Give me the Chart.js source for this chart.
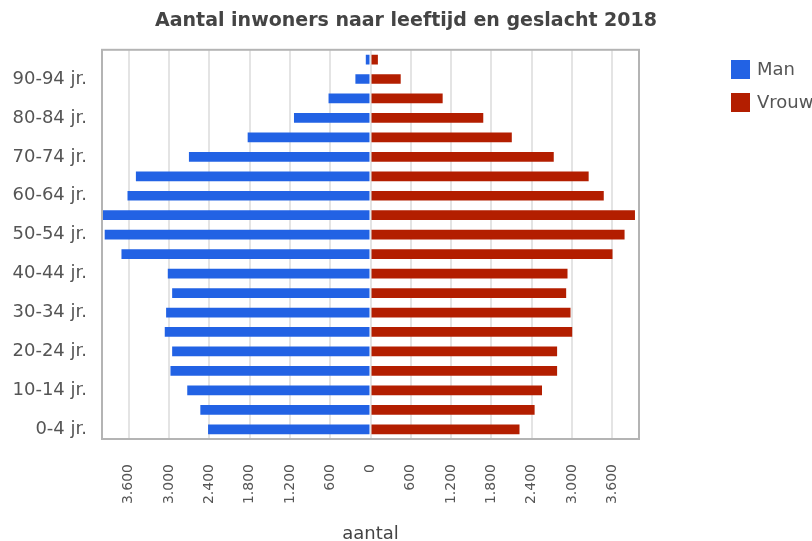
<!DOCTYPE html>
<html>
<head>
<meta charset="utf-8">
<script src="https://cdn.jsdelivr.net/npm/chart.js@4"></script>
<style>
  html, body { margin: 0; padding: 0; background: #fff; overflow: hidden; }
  #wrap { width: 812px; height: 541px; position: relative; }
</style>
</head>
<body>
<div id="wrap"><canvas id="pyramid"></canvas></div>
<script>
// age groups, bottom to top
const ageGroups = ['0-4 jr.', '5-9 jr.', '10-14 jr.', '15-19 jr.', '20-24 jr.', '25-29 jr.',
    '30-34 jr.', '35-39 jr.', '40-44 jr.', '45-49 jr.', '50-54 jr.', '55-59 jr.', '60-64 jr.',
    '65-69 jr.', '70-74 jr.', '75-79 jr.', '80-84 jr.', '85-89 jr.', '90-94 jr.', '95+ jr.'];

const men = [2420, 2535, 2730, 2980, 2955, 3065, 3045, 2955, 3020, 3710,
    3960, 3990, 3620, 3495, 2705, 1830, 1140, 625, 225, 70];

const women = [2220, 2445, 2555, 2780, 2780, 3005, 2980, 2915, 2935, 3605,
    3785, 3940, 3475, 3250, 2730, 2105, 1680, 1075, 450, 110];

const xTicks = [-3600, -3000, -2400, -1800, -1200, -600, 0, 600, 1200, 1800, 2400, 3000, 3600];

const FONT = 'DejaVu Sans';
const TEXT = '#555';

// box round the plot area
const frame = {
    id: 'frame',
    afterDraw(chart) {
        const a = chart.chartArea;
        const ctx = chart.ctx;
        ctx.save();
        ctx.strokeStyle = '#b4b4b4';
        ctx.lineWidth = 2;
        ctx.strokeRect(a.left, a.top, a.right - a.left, a.bottom - a.top);
        ctx.restore();
    }
};

// legend on the right, runs off the edge like the original
const sideLegend = {
    id: 'sideLegend',
    afterDraw(chart) {
        const ctx = chart.ctx;
        ctx.save();
        chart.data.datasets.forEach((ds, i) => {
            const y = 60 + i * 33;
            ctx.fillStyle = ds.backgroundColor;
            ctx.fillRect(731, y, 19, 19);
            ctx.fillStyle = TEXT;
            ctx.font = '18px "' + FONT + '"';
            ctx.textBaseline = 'middle';
            ctx.fillText(ds.label, 757, y + 10);
        });
        ctx.restore();
    }
};

const ctx = document.getElementById('pyramid').getContext('2d');

new Chart(ctx, {
    type: 'bar',
    data: {
        labels: ageGroups,
        datasets: [{
            label: 'Man',
            data: men.map(v => -v),
            backgroundColor: '#2262e4',
            barPercentage: 0.5,
            categoryPercentage: 1
        }, {
            label: 'Vrouw',
            data: women,
            backgroundColor: '#b31e00',
            barPercentage: 0.5,
            categoryPercentage: 1
        }]
    },
    options: {
        indexAxis: 'y',
        responsive: true,
        maintainAspectRatio: false,
        animation: false,
        layout: {
            padding: 0
        },
        scales: {
            x: {
                stacked: true,
                min: -4000,
                max: 4000,
                afterBuildTicks: scale => {
                    scale.ticks = xTicks.map(v => ({ value: v }));
                },
                afterFit: scale => { scale.height = 102; },
                grid: {
                    color: '#e4e4e4',
                    lineWidth: 2,
                    drawTicks: false
                },
                border: { display: false },
                ticks: {
                    minRotation: 90,
                    maxRotation: 90,
                    padding: 25,
                    color: TEXT,
                    font: { family: FONT, size: 14 },
                    callback: v => Math.abs(v).toLocaleString('nl-NL')
                },
                title: {
                    display: true,
                    text: 'aantal',
                    color: '#444',
                    font: { family: FONT, size: 18 },
                    padding: { top: 0, bottom: -4 }
                }
            },
            y: {
                stacked: true,
                reverse: true,
                afterFit: scale => { scale.width = 102; },
                grid: { display: false, drawTicks: false },
                border: { display: false },
                ticks: {
                    autoSkip: false,
                    padding: 15,
                    color: TEXT,
                    font: { family: FONT, size: 18 },
                    callback: function(value, index) {
                        return index % 2 === 0 ? this.getLabelForValue(value) : '';
                    }
                }
            },
            // empty axis that keeps room for the legend, so the title stays centred
            legendRoom: {
                type: 'category',
                position: 'right',
                afterFit: scale => { scale.width = 173; },
                grid: { display: false, drawTicks: false },
                border: { display: false },
                ticks: { display: false }
            }
        },
        plugins: {
            legend: { display: false },
            tooltip: { enabled: false },
            title: {
                display: true,
                text: 'Aantal inwoners naar leeftijd en geslacht 2018',
                color: '#444',
                font: { family: FONT, size: 19, weight: 'bold' },
                padding: { top: 10, bottom: 17 }
            }
        }
    },
    plugins: [frame, sideLegend]
});
</script>
</body>
</html>
